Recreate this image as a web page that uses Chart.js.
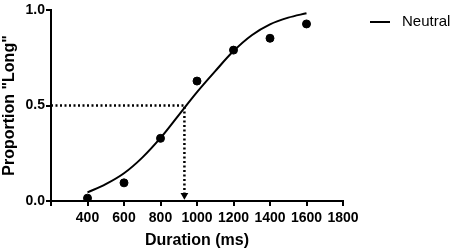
<!DOCTYPE html>
<html>
<head>
<meta charset="utf-8">
<script src="https://cdn.jsdelivr.net/npm/chart.js@4"></script>
<style>
  html, body { margin: 0; padding: 0; background: #fff; }
  #wrap { width: 454px; height: 250px; }
</style>
</head>
<body>
<div id="wrap"><canvas id="ctx" width="454" height="250"></canvas></div>
<script>
// observed points
const durations = [400, 600, 800, 1000, 1200, 1400, 1600];
const propLong = [0.015, 0.095, 0.328, 0.628, 0.79, 0.852, 0.927];

// fitted curve
const fitX = [400, 500, 600, 700, 800, 900, 1000, 1100, 1200, 1300, 1400, 1500, 1600];
const fitY = [0.045, 0.088, 0.145, 0.227, 0.33, 0.45, 0.57, 0.68, 0.785, 0.868, 0.925, 0.96, 0.983];

// PSE guide
const pse = 931;
const guideX = [200, pse, pse];
const guideY = [0.5, 0.5, 0.03];

const xTicks = [400, 600, 800, 1000, 1200, 1400, 1600, 1800];
const yTicks = [0.0, 0.5, 1.0];
const seriesName = 'Neutral';

const pts = (xs, ys) => xs.map((x, i) => ({ x: x, y: ys[i] }));

const legendPlugin = {
  id: 'sideLegend',
  afterDraw(chart) {
    const c = chart.ctx;
    c.save();
    c.strokeStyle = '#000';
    c.lineWidth = 2;
    c.beginPath();
    c.moveTo(370, 22);
    c.lineTo(390, 22);
    c.stroke();
    c.fillStyle = '#000';
    c.font = '15px "Liberation Sans", Arial, sans-serif';
    c.textBaseline = 'middle';
    c.fillText(seriesName, 402, 22);
    c.restore();
  }
};

const tickFont = { family: '"Liberation Sans", Arial, sans-serif', size: 14, weight: 'bold' };
const titleFont = { family: '"Liberation Sans", Arial, sans-serif', size: 16, weight: 'bold' };

new Chart(document.getElementById('ctx').getContext('2d'), {
  type: 'scatter',
  data: {
    datasets: [
      {
        label: seriesName,
        data: pts(fitX, fitY),
        showLine: true,
        borderColor: '#000',
        borderWidth: 2,
        pointRadius: 0,
        cubicInterpolationMode: 'monotone',
        fill: false
      },
      {
        label: 'points',
        data: pts(durations, propLong),
        showLine: false,
        pointRadius: 4,
        pointBackgroundColor: '#000',
        pointBorderColor: '#000'
      },
      {
        label: 'guide',
        data: pts(guideX, guideY),
        showLine: true,
        borderColor: '#000',
        borderWidth: 2.5,
        borderDash: [2, 2.5],
        tension: 0,
        pointRadius: [0, 0, 4.5],
        pointStyle: 'triangle',
        pointRotation: 180,
        pointBackgroundColor: '#000',
        pointBorderColor: '#000',
        pointBorderWidth: 0
      }
    ]
  },
  options: {
    responsive: false,
    animation: false,
    layout: { padding: { left: 0, right: 111, top: 10, bottom: 0 } },
    plugins: { legend: { display: false }, tooltip: { enabled: false } },
    scales: {
      x: {
        type: 'linear',
        min: 200,
        max: 1800,
        afterFit: s => { s.height = 49; },
        afterBuildTicks: s => { s.ticks = [200].concat(xTicks).map(v => ({ value: v })); },
        ticks: {
          color: '#000',
          font: tickFont,
          padding: 4,
          maxRotation: 0,
          autoSkip: false,
          callback: v => (v === 200 ? '' : String(v))
        },
        grid: { drawOnChartArea: false, drawTicks: true, tickLength: 5, color: '#000', lineWidth: 2 },
        border: { display: true, color: '#000', width: 2 },
        title: { display: true, text: 'Duration (ms)', color: '#000', font: titleFont, padding: { top: 1, bottom: 0 } }
      },
      y: {
        min: 0,
        max: 1,
        afterFit: s => { s.width = 51; },
        afterBuildTicks: s => { s.ticks = yTicks.map(v => ({ value: v })); },
        ticks: {
          color: '#000',
          font: tickFont,
          padding: 1,
          callback: v => v.toFixed(1)
        },
        grid: { drawOnChartArea: false, drawTicks: true, tickLength: 5, color: '#000', lineWidth: 2 },
        border: { display: true, color: '#000', width: 2 },
        title: { display: true, text: 'Proportion "Long"', color: '#000', font: titleFont, padding: { top: 0, bottom: 0 } }
      }
    }
  },
  plugins: [legendPlugin]
});
</script>
</body>
</html>
